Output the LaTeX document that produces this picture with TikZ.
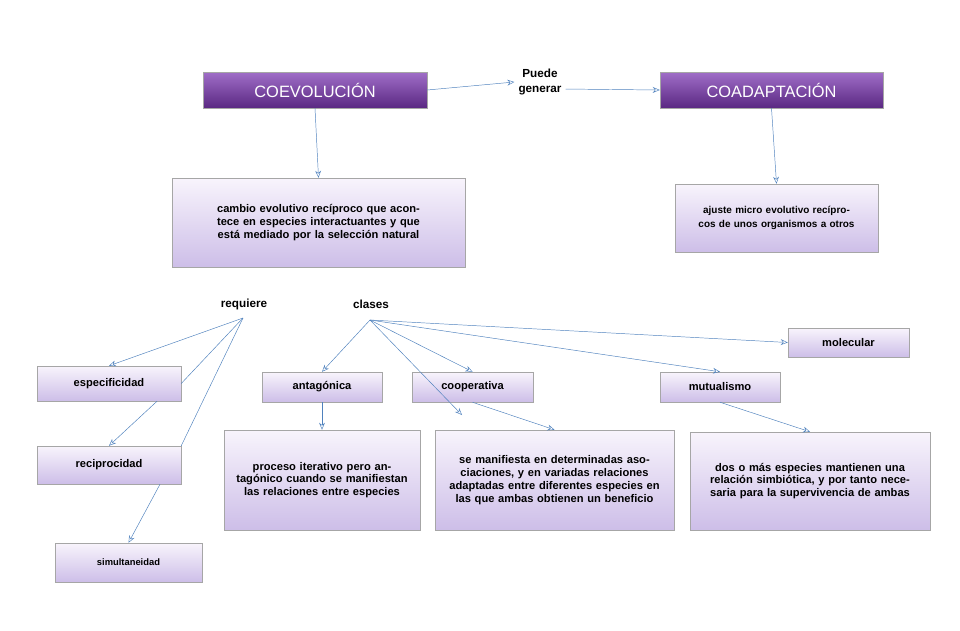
\documentclass[tikz,border=0pt]{standalone}
\usepackage{fontspec}
\setmainfont{Liberation Sans}
\usetikzlibrary{arrows.meta}
\definecolor{boxtop}{RGB}{248,244,252}
\definecolor{boxbot}{RGB}{205,190,232}
\definecolor{headtop}{RGB}{160,110,200}
\definecolor{headbot}{RGB}{90,40,130}
\definecolor{linec}{RGB}{79,129,189}
\tikzset{
	box/.style={draw=gray!70, top color=boxtop, bottom color=boxbot, align=center, font=\bfseries\fontsize{9.5}{11}\selectfont, inner sep=2pt},
	head/.style={draw=gray!70, top color=headtop, bottom color=headbot, text=white, font=\fontsize{14}{16}\selectfont, inner sep=0pt},
	lbl/.style={font=\bfseries\fontsize{10}{12}\selectfont, align=center},
	arr/.style={draw=linec, -{Stealth[length=6pt,width=5pt,open]}, thin},
	ln/.style={draw=linec, thin}
}
\begin{document}
\begin{tikzpicture}[x=0.03cm, y=-0.03cm]
	\useasboundingbox (0,0) rectangle (960,630);
	%heads
	\node[head, minimum width=224*0.03cm, minimum height=36*0.03cm] (coev) at (315,90) {COEVOLUCIÓN};
	\node[head, minimum width=223*0.03cm, minimum height=36*0.03cm] (coad) at (771.5,90) {COADAPTACIÓN};
	\node[lbl] (puede) at (540,82) {Puede\\generar};
	%boxes
	\node[box, minimum width=293*0.03cm, minimum height=89*0.03cm, text width=280*0.03cm] (cambio) at (318.5,222.5) {cambio evolutivo recíproco que acontece en especies interactuantes y que está mediado por la selección natural};
	\node[box, minimum width=203*0.03cm, minimum height=68*0.03cm, text width=190*0.03cm, font=\bfseries\fontsize{8.5}{12}\selectfont] (ajuste) at (776.5,218) {ajuste micro evolutivo recíprocos de unos organismos a otros};
	\node[lbl] (req) at (244,304) {requiere};
	\node[lbl] (cla) at (371,304) {clases};
	\node[box, minimum width=121*0.03cm, minimum height=29*0.03cm] (mol) at (848.5,342.5) {molecular};
	\node[box, minimum width=144*0.03cm, minimum height=35*0.03cm] (esp) at (109,383.5) {especificidad};
	\node[box, minimum width=120*0.03cm, minimum height=30*0.03cm] (ant) at (322,387) {antagónica};
	\node[box, minimum width=121*0.03cm, minimum height=30*0.03cm] (coop) at (472.5,387) {cooperativa};
	\node[box, minimum width=120*0.03cm, minimum height=30*0.03cm] (mut) at (720,387) {mutualismo};
	\node[box, minimum width=144*0.03cm, minimum height=38*0.03cm] (rec) at (109,465) {reciprocidad};
	\node[box, minimum width=196*0.03cm, minimum height=100*0.03cm, text width=180*0.03cm] (proc) at (322,480) {proceso iterativo pero antagónico cuando se manifiestan las relaciones entre especies};
	\node[box, minimum width=239*0.03cm, minimum height=100*0.03cm, text width=228*0.03cm] (mani) at (554.5,480) {se manifiesta en determinadas asociaciones, y en variadas relaciones adaptadas entre diferentes especies en las que ambas obtienen un beneficio};
	\node[box, minimum width=240*0.03cm, minimum height=98*0.03cm, text width=228*0.03cm] (dos) at (810,481) {dos o más especies mantienen una relación simbiótica, y por tanto necesaria para la supervivencia de ambas};
	\node[box, minimum width=147*0.03cm, minimum height=39*0.03cm, font=\bfseries\fontsize{8}{10}\selectfont] (sim) at (128.5,562.5) {simultaneidad};
	%connectors
	\coordinate (rq) at (243,318);
	\coordinate (cl) at (370,320);
	\coordinate (free) at (462,415);
	\draw[arr] (coev.east) -- (puede.west);
	\draw[arr] ([yshift=-6pt]puede.east) -- (coad.west);
	\draw[arr] (coev.south) -- (cambio.north);
	\draw[arr] (coad.south) -- (ajuste.north);
	\draw[arr] (rq) -- (esp.north);
	\draw[ln] (rq) -- (esp.east);
	\draw[ln] (rq) -- (rec.north east);
	\draw[arr] ([xshift=48*0.03cm]esp.south) -- (rec.north);
	\draw[arr] ([xshift=51*0.03cm]rec.south) -- (sim.north);
	\draw[arr] (cl) -- (ant.north);
	\draw[arr] (cl) -- (coop.north);
	\draw[arr] (cl) -- (free);
	\draw[arr] (cl) -- (mut.north);
	\draw[arr] (cl) -- (mol.west);
	\draw[arr] (ant.south) -- (proc.north);
	\draw[arr] (coop.south) -- (mani.north);
	\draw[arr] (mut.south) -- (dos.north);
\end{tikzpicture}
\end{document}
